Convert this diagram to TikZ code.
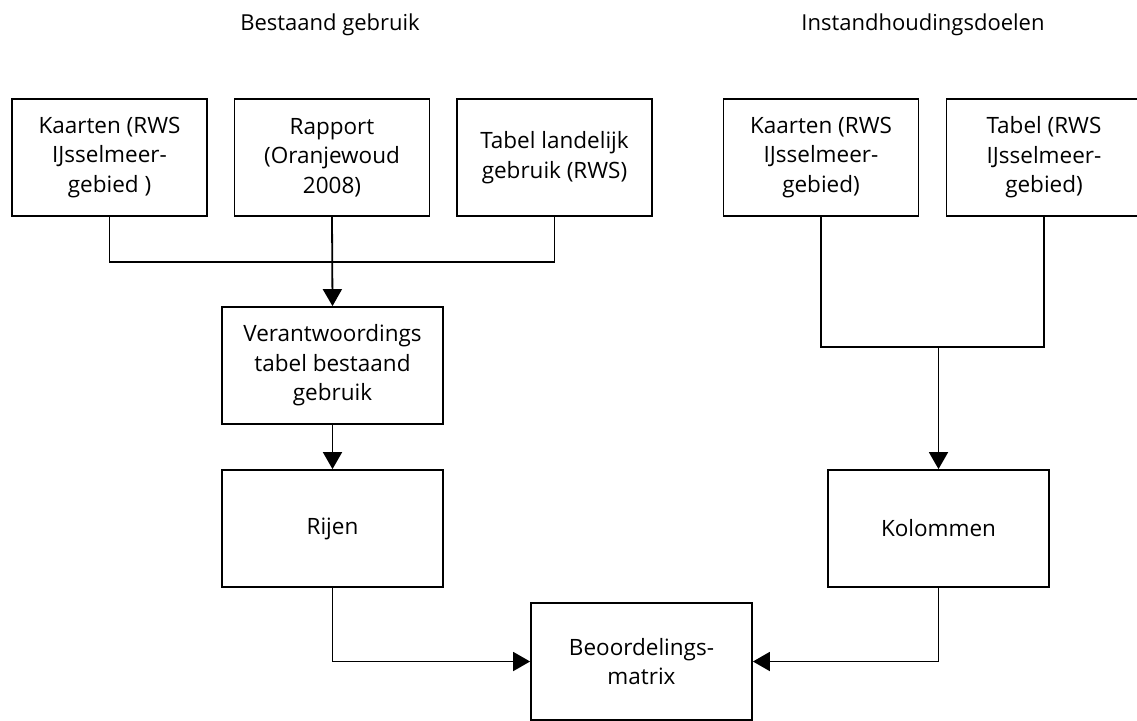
\documentclass[tikz,border=0pt]{standalone}
\usepackage{fontspec}
\setmainfont{Open Sans}
\usetikzlibrary{arrows.meta}
\tikzset{
  box/.style={draw=black, line width=1.8pt, align=center, inner sep=0pt,
    font=\fontsize{22.5}{29.5}\selectfont, minimum height=117pt},
  narrowbox/.style={box, minimum width=195pt},
  widebox/.style={box, minimum width=221pt},
  title/.style={font=\fontsize{22}{29}\selectfont},
  conn/.style={line width=1.8pt},
  arr/.style={conn, -{Triangle[length=17pt,width=19pt]}}
}
\begin{document}
\begin{tikzpicture}[x=1pt,y=-1pt]
\useasboundingbox (0,0) rectangle (1137,720);
\node[title] (t1) at (330,25) {Bestaand gebruik};
\node[title] (t2) at (923,25) {Instandhoudingsdoelen};

\node[narrowbox] (k1) at (109.5,157.5) {Kaarten (RWS\\IJsselmeer-\\gebied )};
\node[narrowbox] (rap) at (332,157.5) {Rapport\\(Oranjewoud\\2008)};
\node[narrowbox] (tab) at (554.5,157.5) {Tabel landelijk\\gebruik (RWS)};
\node[narrowbox] (k2) at (821,157.5) {Kaarten (RWS\\IJsselmeer-\\gebied)};
\node[narrowbox] (tab2) at (1044,157.5) {Tabel (RWS\\IJsselmeer-\\gebied)};

\node[widebox] (ver) at (332.5,365.5) {Verantwoordings\\tabel bestaand\\gebruik};
\node[widebox] (rij) at (332.5,528.5) {Rijen};
\node[widebox] (kol) at (938.5,528.5) {Kolommen};
\node[widebox] (beo) at (641.5,661.5) {Beoordelings-\\matrix};

\coordinate (jl) at (332,262);
\coordinate (jr) at (938.5,347);

\draw[conn] (k1.south) |- (jl) -| (tab.south);
\draw[arr] (rap.south) -- (ver.north);
\draw[arr] (ver.south) -- (rij.north);
\draw[conn] (k2.south) |- (jr) -| (tab2.south);
\draw[arr] (jr) -- (kol.north);
\draw[arr] (rij.south) |- (beo.west);
\draw[arr] (kol.south) |- (beo.east);
\end{tikzpicture}
\end{document}
